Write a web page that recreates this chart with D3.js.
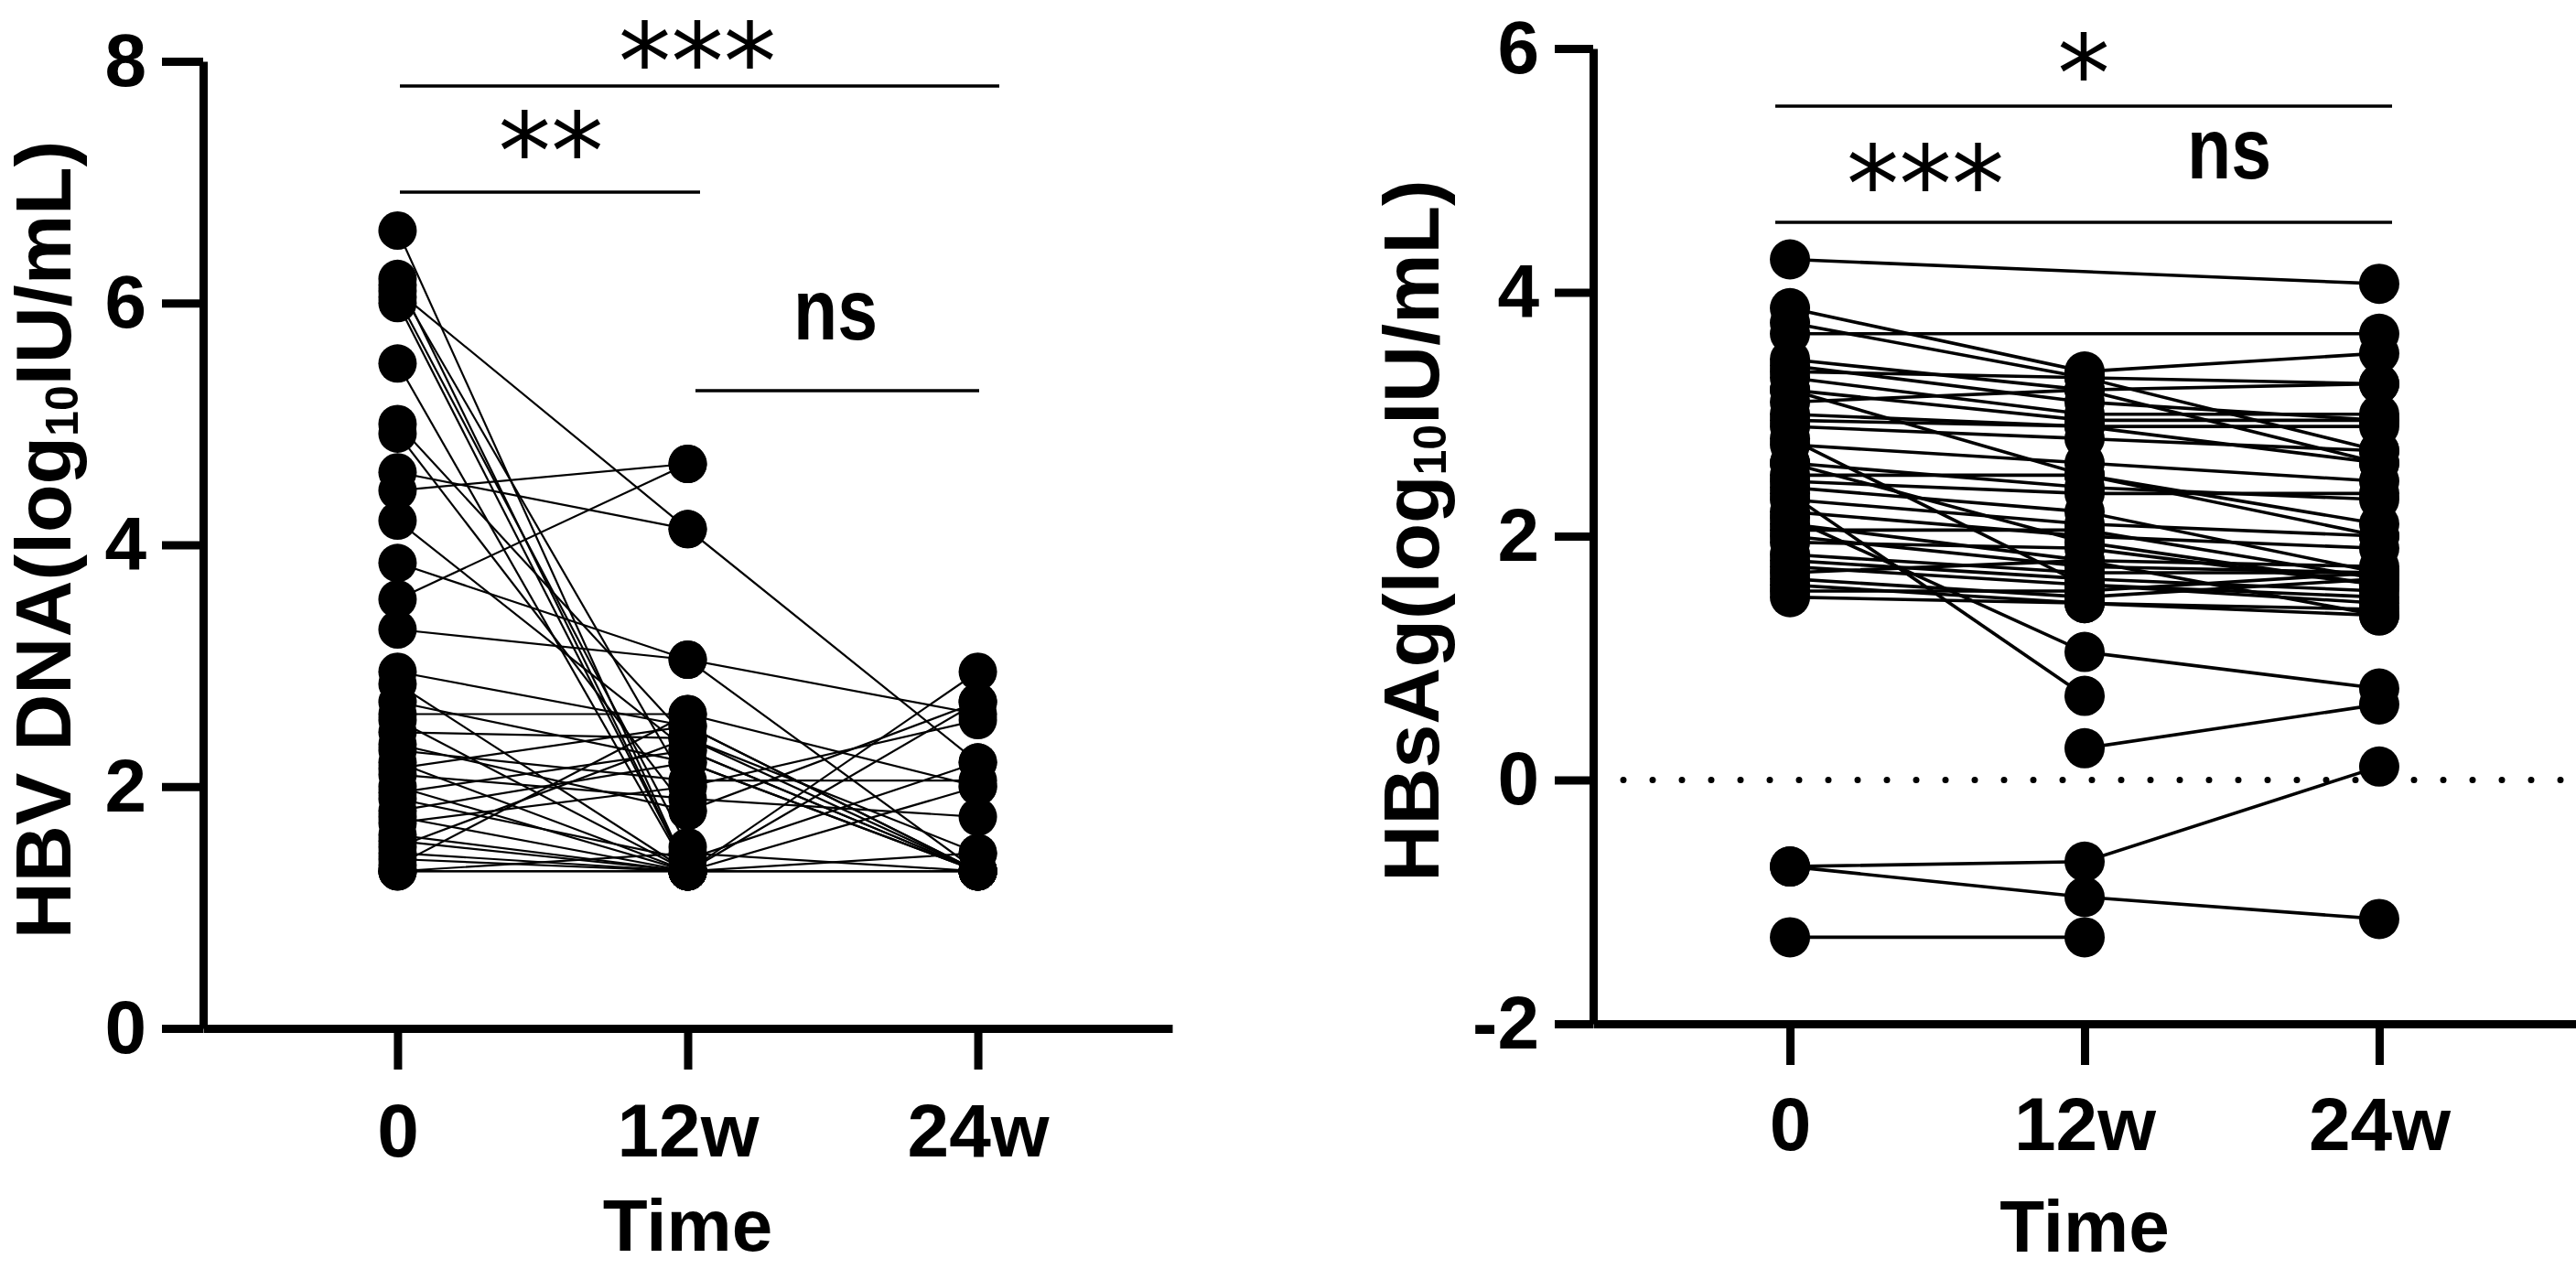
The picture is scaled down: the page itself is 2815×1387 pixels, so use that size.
<!DOCTYPE html>
<html>
<head>
<meta charset="utf-8">
<script src="https://cdnjs.cloudflare.com/ajax/libs/d3/7.8.5/d3.min.js"></script>
<style>
  html, body { margin: 0; padding: 0; background: #fff; }
  svg { display: block; }
  text { font-family: "Liberation Sans", Arial, sans-serif; fill: #000; }
</style>
</head>
<body>
<svg id="chart"></svg>
<script>
let timepoints = ["0", "12w", "24w"];

// HBV DNA, log10 IU/mL, one entry per patient (null = no sample)
let dnaWeek0 = [6.6, 6.2, 6.15, 6.1, 6.05, 6.0, 5.5, 5.0, 4.92, 4.6, 4.45, 4.2, 3.85, 3.55, 3.3, 2.95, 2.85, 2.7, 2.6, 2.55, 2.45,
  2.35, 2.3, 2.2, 2.15, 2.1, 2.0, 1.95, 1.9, 1.8, 1.75, 1.7, 1.6, 1.55, 1.5, 1.45, 1.4, 1.35, 1.3, 1.3, 1.3, 1.3];
let dnaWeek12 = [1.3, 1.3, 2.0, 4.13, 1.5, 1.3, 1.3, 2.4, 1.8, 4.13, 4.67, 2.3, 3.05, 4.67, 3.05, 2.5, 1.3, 2.2, 2.6, 1.3, 2.4,
  1.8, 2.05, 1.3, 2.5, 1.9, 1.3, 2.3, 1.4, 2.2, 1.3, 2.0, 1.3, 1.3, 2.4, 1.3, 1.3, 2.6, 1.3, 1.3, 1.3, 1.45];
let dnaWeek24 = [null, null, null, 2.2, null, null, null, null, null, null, null, 1.3, 2.6, null, 1.3, 1.3, null, 1.3, 2.0, 1.3, 1.45,
  2.7, 2.05, null, 1.3, 1.75, 2.95, 1.3, 2.2, 1.3, 1.3, 2.55, 1.45, null, 1.3, 2.0, 1.3, null, 1.3, 2.7, null, 1.3];

// HBsAg, log10 IU/mL
let hbsagWeek0 = [4.27, 3.66, 3.87, 3.75, 3.45, 3.4, 3.35, 3.3, 3.2, 3.1, 3.0, 2.95, 2.9, 2.15, 2.75, 2.6, 2.5, 2.45, 2.4, 2.3,
  2.35, 2.2, 2.1, 2.05, 2.0, 1.95, 1.85, 1.8, 1.75, 1.7, 1.65, 1.6, 1.55, 1.5, 3.2, 2.6, 2.8, null, -0.71, -0.71, -1.29];
let hbsagWeek12 = [null, null, 3.35, 3.3, 3.2, 3.1, 3.3, 3.0, 2.95, 3.2, 2.9, 2.9, 2.8, 1.05, 2.6, 2.4, 2.5, 2.35, 2.2, 2.1,
  0.69, 2.0, 1.8, 2.05, 1.75, 1.9, 1.7, 1.65, 1.6, 1.8, 1.5, 1.45, 1.55, 1.45, 2.5, 1.95, 1.6, 0.26, -0.67, -0.96, -1.29];
let hbsagWeek24 = [4.07, 3.66, 3.5, 3.25, 3.25, 2.95, 2.7, 3.0, 2.95, 2.6, 2.9, 2.6, 2.7, 0.75, 2.45, 2.3, 2.1, 2.35, 1.7, 2.0,
  null, 1.9, 1.75, 1.65, 1.7, 1.6, 1.7, 1.55, 1.45, 1.35, 1.65, 1.35, 1.7, 1.4, 2.0, 1.6, 1.5, 0.62, 0.11, -1.14, null];

let dnaTicks = [0, 2, 4, 6, 8];
let hbsagTicks = [-2, 0, 2, 4, 6];

let width = 2815;
let height = 1387;

let svg = d3.select("#chart").attr("width", width).attr("height", height);

let toPatients = (w0, w12, w24) => {
  return w0.map((v, i) => {
    return [
      { t: timepoints[0], v: v },
      { t: timepoints[1], v: w12[i] },
      { t: timepoints[2], v: w24[i] },
    ].filter(p => p.v != null);
  });
};

let drawPanel = cfg => {
  let g = svg.append("g");

  let yScale = d3.scaleLinear().domain(cfg.domain).range([cfg.bottom, cfg.top]);
  let xScale = d3
    .scalePoint()
    .domain(timepoints)
    .range([cfg.left, cfg.right])
    .padding(cfg.pad);

  let patients = toPatients(cfg.w0, cfg.w12, cfg.w24);

  if (cfg.dotted) {
    g.append("line")
      .attr("x1", cfg.left + 33)
      .attr("x2", width)
      .attr("y1", yScale(0))
      .attr("y2", yScale(0))
      .attr("stroke", "#000")
      .attr("stroke-width", 7)
      .attr("stroke-linecap", "round")
      .attr("stroke-dasharray", "0 32");
  }

  let line = d3
    .line()
    .x(p => xScale(p.t))
    .y(p => yScale(p.v));

  g.selectAll(".pair")
    .data(patients.filter(p => p.length > 1))
    .enter()
    .append("path")
    .attr("d", line)
    .attr("fill", "none")
    .attr("stroke", "#000")
    .attr("stroke-width", cfg.lineW);

  g.selectAll(".dot")
    .data(patients.flat())
    .enter()
    .append("circle")
    .attr("cx", p => xScale(p.t))
    .attr("cy", p => yScale(p.v))
    .attr("r", cfg.r)
    .attr("fill", "#000");

  let yAxis = d3
    .axisLeft(yScale)
    .tickValues(cfg.ticks)
    .tickFormat(d => String(d))
    .tickSizeInner(cfg.tick)
    .tickSizeOuter(0)
    .tickPadding(17);

  let xAxis = d3.axisBottom(xScale).tickSizeInner(45).tickSizeOuter(0);

  let yg = g.append("g").attr("transform", "translate(" + cfg.left + ",0)").call(yAxis);
  let xg = g.append("g").attr("transform", "translate(0," + cfg.bottom + ")").call(xAxis);

  [yg, xg].forEach(a => {
    a.select(".domain").attr("stroke-width", 9);
    a.selectAll(".tick line").attr("stroke-width", 9);
    a.selectAll("text")
      .style("font-size", "82px")
      .style("font-weight", "bold")
      .attr("fill", "#000");
  });
  xg.selectAll("text").attr("y", cfg.tickBase).attr("dy", 0);

  g.append("text")
    .attr("x", xScale(timepoints[1]))
    .attr("y", cfg.timeBase)
    .attr("text-anchor", "middle")
    .style("font-size", "80px")
    .style("font-weight", "bold")
    .text("Time");

  let label = g
    .append("text")
    .attr("transform", "translate(" + cfg.labelX + "," + cfg.labelY + ") rotate(-90)")
    .attr("text-anchor", "middle")
    .style("font-size", "86px")
    .style("font-weight", "bold");
  label.append("tspan").text(cfg.label + "(log");
  label.append("tspan").text("10").style("font-size", "50px").attr("dy", 8);
  label.append("tspan").text("IU/mL)").attr("dy", -8);

  cfg.bars.forEach(b => {
    g.append("line")
      .attr("x1", b.x1)
      .attr("x2", b.x2)
      .attr("y1", b.y)
      .attr("y2", b.y)
      .attr("stroke", "#000")
      .attr("stroke-width", 3.5);
  });

  cfg.marks.forEach(m => {
    let t = g
      .append("text")
      .attr("x", m.x)
      .attr("y", m.y)
      .attr("text-anchor", "middle")
      .text(m.text);
    if (m.text == "ns") {
      t.style("font-size", "95px")
        .style("font-weight", "bold")
        .attr("textLength", 92)
        .attr("lengthAdjust", "spacingAndGlyphs");
    } else {
      t.style("font-family", "'DejaVu Sans', sans-serif").style("font-size", "115px");
    }
  });
};

drawPanel({
  w0: dnaWeek0,
  w12: dnaWeek12,
  w24: dnaWeek24,
  domain: [0, 8],
  ticks: dnaTicks,
  left: 222,
  right: 1281,
  pad: 0.67,
  top: 67,
  bottom: 1124,
  tick: 45,
  r: 21,
  lineW: 2.2,
  dotted: false,
  tickBase: 140,
  timeBase: 1367,
  label: "HBV DNA",
  labelX: 77,
  labelY: 590,
  bars: [
    { x1: 437, x2: 1092, y: 94 },
    { x1: 437, x2: 765, y: 210 },
    { x1: 760, x2: 1070, y: 427 },
  ],
  marks: [
    { text: "***", x: 762, y: 108 },
    { text: "**", x: 602, y: 206 },
    { text: "ns", x: 913, y: 371 },
  ],
});

drawPanel({
  w0: hbsagWeek0,
  w12: hbsagWeek12,
  w24: hbsagWeek24,
  domain: [-2, 6],
  ticks: hbsagTicks,
  left: 1741,
  right: 2815,
  pad: 0.668,
  top: 53,
  bottom: 1119,
  tick: 42,
  r: 22,
  lineW: 3.6,
  dotted: true,
  tickBase: 138,
  timeBase: 1368,
  label: "HBsAg",
  labelX: 1572,
  labelY: 580,
  bars: [
    { x1: 1940, x2: 2614, y: 116 },
    { x1: 1940, x2: 2614, y: 243 },
  ],
  marks: [
    { text: "*", x: 2277, y: 121 },
    { text: "***", x: 2104, y: 242 },
    { text: "ns", x: 2436, y: 195 },
  ],
});
</script>
</body>
</html>
